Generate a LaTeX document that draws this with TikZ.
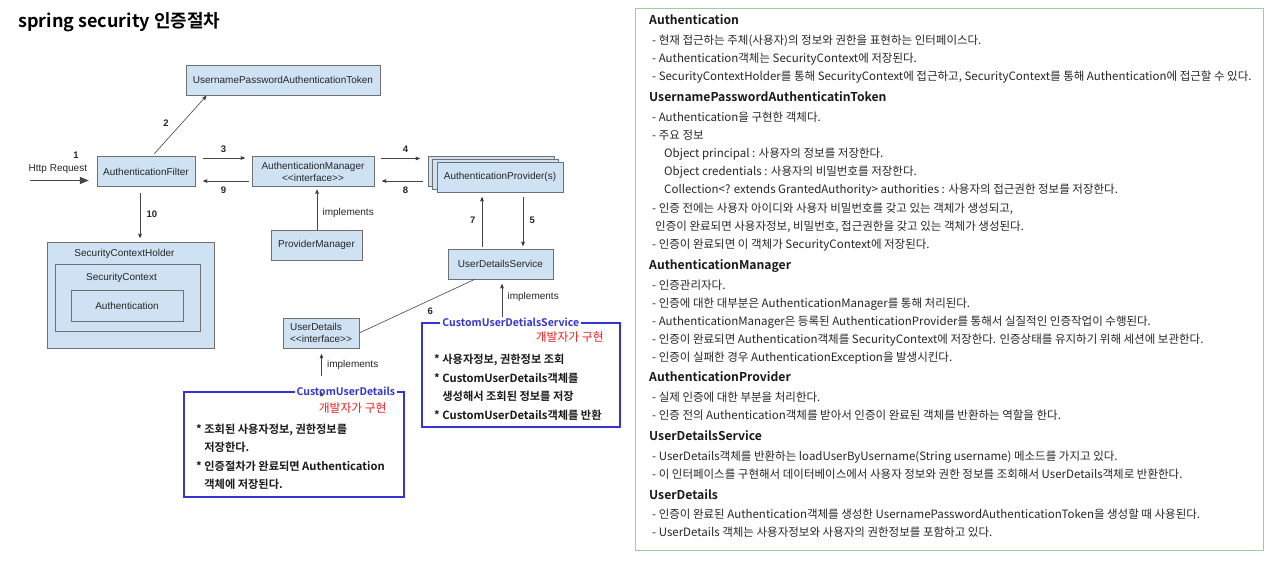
\documentclass[tikz,border=0pt]{standalone}
\usepackage{fontspec}
\setmainfont{Liberation Sans}
\newfontfamily\kr{Noto Sans CJK KR}[BoldFont={Noto Sans CJK KR Bold}]
\usetikzlibrary{arrows,arrows.meta,shadows}
\definecolor{boxblue}{HTML}{CFE2F3}
\definecolor{boxline}{HTML}{707070}
\definecolor{wire}{HTML}{454545}
\definecolor{devblue}{HTML}{3434D0}
\definecolor{devred}{HTML}{F01E1E}
\definecolor{panel}{HTML}{8FD39D}

\begin{document}
\begin{tikzpicture}[x=1pt,y=-1pt,>=stealth',shorten >=1pt,
    box/.style={draw=boxline, fill=boxblue, minimum height=30pt, inner sep=2pt, text=black!85,
      font=\fontsize{10}{12}\selectfont},
    lbl/.style={text=black!85, font=\fontsize{10}{12}\selectfont},
    num/.style={text=black!85, font=\bfseries\fontsize{9.5}{12}\selectfont},
    devbox/.style={draw=devblue, line width=1.6pt, fill=white},
    devtitle/.style={fill=white, text=devblue, inner sep=2pt, font=\kr\bfseries\fontsize{10.5}{12}\selectfont},
    devnote/.style={text=devred, inner sep=0pt, font=\kr\fontsize{11.8}{13}\selectfont},
    devtxt/.style={align=left, inner sep=0pt, text=black!90, font=\kr\bfseries\fontsize{11.2}{18.5}\selectfont},
    head/.style={anchor=base west, inner sep=0pt, text=black!90, font=\kr\bfseries\fontsize{12.2}{15}\selectfont},
    note/.style={anchor=base west, inner sep=0pt, text=black!85, font=\kr\fontsize{11.5}{13}\selectfont}]

  \fill[white] (0,0) rectangle (1280,573);
  \useasboundingbox (0,0) rectangle (1280,573);

  \node[anchor=west, inner sep=0pt, font=\kr\bfseries\fontsize{18}{20}\selectfont] (title) at (18,22) {spring security 인증절차};

  % flow boxes
  \node[box, minimum width=194pt] (tok) at (283,80) {UsernamePasswordAuthenticationToken};
  \node[box, minimum width=98pt] (filter) at (146,171.5) {AuthenticationFilter};
  \node[box, minimum width=122pt, align=center] (mgr) at (313,171.5) {AuthenticationManager\\<{}<interface>{}>};
  \node[box, minimum width=126pt, double copy shadow={shadow xshift=-4.5pt, shadow yshift=3pt}] (prov) at (500,177) {AuthenticationProvider(s)};
  \node[box, minimum width=91pt] (pm) at (316.5,245) {ProviderManager};
  \node[box, minimum width=105pt] (uds) at (500.5,264) {UserDetailsService};
  \node[box, minimum width=76pt, align=left] (ud) at (321,333) {UserDetails\\<{}<interface>{}>};

  \node[box, minimum width=167pt, minimum height=106pt,
    label={[lbl, anchor=north, xshift=-6pt, yshift=-4pt]north:SecurityContextHolder}] (sch) at (130.5,295) {};
  \node[box, minimum width=145pt, minimum height=67pt,
    label={[lbl, anchor=north, xshift=-6pt, yshift=-6pt]north:SecurityContext}] (sc) at (127.5,297.5) {};
  \node[box, minimum width=112pt, minimum height=31pt] (au) at (127,305.5) {Authentication};

  % developer boxes
  \node[devbox, minimum width=220pt, minimum height=105pt] (cud) at (294,444.5) {};
  \node[devtitle] (cudname) at ([xshift=-59]cud.north east) {CustomUserDetails};
  \node[devnote, anchor=east] (cudnote) at ([xshift=-18,yshift=-17]cud.north east) {개발자가 구현};
  \node[devtxt, anchor=north west] (cudtxt) at (196,423.5)
    {* 조회된 사용자정보, 권한정보를\\\phantom{*} 저장한다.\\{}* 인증절차가 완료되면 Authentication\\\phantom{*} 객체에 저장된다.};

  \node[devbox, minimum width=198pt, minimum height=104pt] (cuds) at (521,375) {};
  \node[devtitle] (cudsname) at ([xshift=-110]cuds.north east) {CustomUserDetialsService};
  \node[devnote, anchor=east] (cudsnote) at ([xshift=-17,yshift=-15]cuds.north east) {개발자가 구현};
  \node[devtxt, anchor=north west] (cudstxt) at (434,354)
    {* 사용자정보, 권한정보 조회\\{}* CustomUserDetails객체를\\\phantom{*} 생성해서 조회된 정보를 저장\\{}* CustomUserDetails객체를 반환};

  % connectors
  \coordinate (req) at (30,180.5);
  \node[num] (n1) at (76,155) {1};
  \draw[draw=wire, line width=1.6pt, shorten >=0pt, -{Triangle[length=9pt, width=7pt]}]
    (req) -- node[lbl, above=3pt, xshift=-1.5pt] {Http Request} ([xshift=-8pt, yshift=-9pt]filter.west);

  \path[->, draw=wire, line width=0.6pt]
    ([xshift=6]filter.north) edge[shorten <=3.5pt] node[num, pos=.55, left=10pt] {2} ([xshift=-76]tok.south)
    ([yshift=13.5]filter.east) edge[shorten <=8pt, shorten >=7pt] node[num, above=2pt] {3} ([yshift=13.5]mgr.west)
    ([yshift=-9.5]mgr.west) edge[shorten <=3pt, shorten >=8pt] node[num, below=2pt] {9} ([yshift=-9.5]filter.east)
    ([yshift=13]mgr.east) edge[shorten <=7pt, shorten >=17pt] node[num, above=2pt] {4} ([yshift=18.5]prov.west)
    ([yshift=-4]prov.west) edge[shorten <=14pt, shorten >=8pt] node[num, below=2pt] {8} ([yshift=-9.5]mgr.east)
    ([xshift=-6]filter.south) edge[shorten <=6.5pt, shorten >=4pt] node[num, right=3pt] {10} ([xshift=9.5]sch.north)
    ([xshift=0.5]pm.north) edge[shorten >=3pt] node[lbl, pos=.4, right=2pt] {implements} ([xshift=4]mgr.south)
    ([xshift=-18.5]uds.north) edge[shorten <=2pt, shorten >=5pt] node[num, left=3pt] {7} ([xshift=-18]prov.south)
    ([xshift=23]prov.south) edge[shorten <=5pt, shorten >=3pt] node[num, right=3pt] {5} ([xshift=22.5]uds.north)
    ([xshift=-25.5]uds.south) edge[-] node[num, pos=.45, below right=1pt] {6} (ud.east)
    ([xshift=-19]cuds.north) edge[shorten <=5pt, shorten >=5pt] node[lbl, pos=.58, right=2pt] {implements} ([xshift=1.5]uds.south)
    ([xshift=27.5]cud.north) edge[shorten <=15pt, shorten >=6pt] node[lbl, pos=.61, right=2pt] {implements} ([xshift=0.5]ud.south);

  % description panel
  \draw[panel, line width=0.8pt] (635,8) rectangle (1263,550);

  \node[head] (hA) at (649,24.5) {Authentication};
  \node[note] (a1) at (652,44) {- 현재 접근하는 주체(사용자)의 정보와 권한을 표현하는 인터페이스다.};
  \node[note] (a2) at (652,62) {- Authentication객체는 SecurityContext에 저장된다.};
  \node[note] (a3) at (652,80) {- SecurityContextHolder를 통해 SecurityContext에 접근하고, SecurityContext를 통해 Authentication에 접근할 수 있다.};

  \node[head] (hT) at (649,101.5) {UsernamePasswordAuthenticatinToken};
  \node[note] (t1) at (652,121) {- Authentication을 구현한 객체다.};
  \node[note] (t2) at (652,139) {- 주요 정보};
  \node[note] (t3) at (664,157) {Object principal : 사용자의 정보를 저장한다.};
  \node[note] (t4) at (664,175) {Object credentials : 사용자의 비밀번호를 저장한다.};
  \node[note] (t5) at (664,193) {Collection<? extends GrantedAuthority> authorities : 사용자의 접근권한 정보를 저장한다.};
  \node[note] (t6) at (652,212) {- 인증 전에는 사용자 아이디와 사용자 비밀번호를 갖고 있는 객체가 생성되고,};
  \node[note] (t7) at (655,230) {인증이 완료되면 사용자정보, 비밀번호, 접근권한을 갖고 있는 객체가 생성된다.};
  \node[note] (t8) at (652,248) {- 인증이 완료되면 이 객체가 SecurityContext에 저장된다.};

  \node[head] (hM) at (649,269.5) {AuthenticationManager};
  \node[note] (m1) at (652,289) {- 인증관리자다.};
  \node[note] (m2) at (652,307) {- 인증에 대한 대부분은 AuthenticationManager를 통해 처리된다.};
  \node[note] (m3) at (652,325) {- AuthenticationManager은 등록된 AuthenticationProvider를 통해서 실질적인 인증작업이 수행된다.};
  \node[note] (m4) at (652,343) {- 인증이 완료되면 Authentication객체를 SecurityContext에 저장한다. 인증상태를 유지하기 위해 세션에 보관한다.};
  \node[note] (m5) at (652,361) {- 인증이 실패한 경우 AuthenticationException을 발생시킨다.};

  \node[head] (hP) at (649,381.5) {AuthenticationProvider};
  \node[note] (p1) at (652,401) {- 실제 인증에 대한 부분을 처리한다.};
  \node[note] (p2) at (652,419) {- 인증 전의 Authentication객체를 받아서 인증이 완료된 객체를 반환하는 역할을 한다.};

  \node[head] (hS) at (649,440.5) {UserDetailsService};
  \node[note] (s1) at (652,460) {- UserDetails객체를 반환하는 loadUserByUsername(String username) 메소드를 가지고 있다.};
  \node[note] (s2) at (652,478) {- 이 인터페이스를 구현해서 데이터베이스에서 사용자 정보와 권한 정보를 조회해서 UserDetails객체로 반환한다.};

  \node[head] (hD) at (649,499.5) {UserDetails};
  \node[note] (u1) at (652,518) {- 인증이 완료된 Authentication객체를 생성한 UsernamePasswordAuthenticationToken을 생성할 때 사용된다.};
  \node[note] (u2) at (652,536) {- UserDetails 객체는 사용자정보와 사용자의 권한정보를 포함하고 있다.};
\end{tikzpicture}
\end{document}
